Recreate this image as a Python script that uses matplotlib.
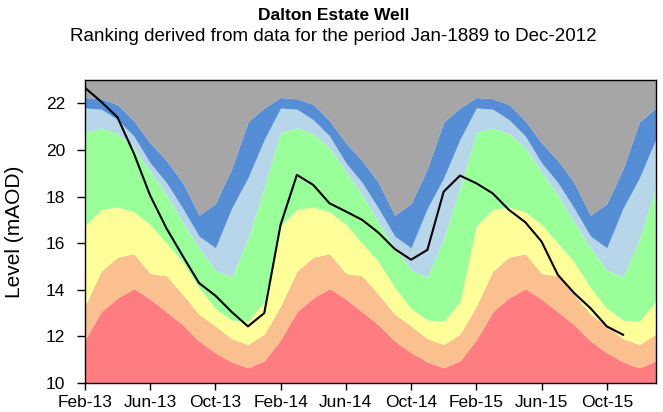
import matplotlib
matplotlib.use("Agg")
import matplotlib.pyplot as plt

plt.rcParams['font.family'] = ['Liberation Sans', 'DejaVu Sans']

# months shown on the axis, Feb-13 .. Jan-16
months = ['Feb', 'Mar', 'Apr', 'May', 'Jun', 'Jul', 'Aug', 'Sep', 'Oct', 'Nov', 'Dec', 'Jan'] * 3
years = ['13'] * 11 + ['14'] * 12 + ['15'] * 12 + ['16']
month_labels = [m + '-' + y for m, y in zip(months, years)]

# monthly ranking bands (upper edge of each band), by calendar month
cal = ['Jan', 'Feb', 'Mar', 'Apr', 'May', 'Jun', 'Jul', 'Aug', 'Sep', 'Oct', 'Nov', 'Dec']
red_top = [10.95, 11.85, 13.05, 13.65, 14.05, 13.6, 13.05, 12.5, 11.8, 11.3, 10.9, 10.65]
orange_top = [12.1, 13.3, 14.8, 15.4, 15.55, 14.7, 14.6, 13.8, 12.95, 12.45, 11.9, 11.65]
yellow_top = [13.5, 16.75, 17.45, 17.55, 17.35, 16.8, 16.0, 15.2, 14.1, 13.2, 12.7, 12.65]
green_top = [18.4, 20.75, 20.95, 20.7, 20.1, 19.07, 18.07, 16.9, 15.8, 14.85, 14.55, 16.2]
ltblue_top = [20.45, 21.8, 21.75, 21.3, 20.6, 19.45, 18.6, 17.5, 16.3, 15.8, 17.5, 18.8]
blue_top = [21.8, 22.25, 22.2, 21.95, 21.25, 20.3, 19.55, 18.6, 17.2, 17.7, 19.2, 21.2]

# observed level, Feb-13 .. Nov-15
level = [22.67, 22.07, 21.4, 19.86, 18.05, 16.64, 15.45, 14.29, 13.75, 13.05, 12.43, 13.0,
         16.79, 18.93, 18.5, 17.71, 17.36, 17.0, 16.45, 15.75, 15.29, 15.71, 18.21, 18.9,
         18.57, 18.14, 17.43, 16.9, 16.07, 14.64, 13.86, 13.21, 12.43, 12.07]

ymin, ymax = 10, 23

x = list(range(len(months)))
idx = [cal.index(m) for m in months]
bands = [[red_top[i] for i in idx], [orange_top[i] for i in idx], [yellow_top[i] for i in idx],
         [green_top[i] for i in idx], [ltblue_top[i] for i in idx], [blue_top[i] for i in idx],
         [ymax] * len(idx)]
colors = ['#FF7D80', '#FAC090', '#FFFF99', '#99FF99', '#B7D6EA', '#558ED5', '#A6A6A6']

fig = plt.figure(figsize=(6.63, 4.12), dpi=100)
ax = fig.add_axes([0.128, 0.0704, 0.861, 0.7354])

lower = [ymin] * len(x)
for b, c in zip(bands, colors):
    ax.fill_between(x, lower, b, color=c, linewidth=0)
    lower = b

ax.plot(x[:len(level)], level, color='black', linewidth=1.5)

ax.set_xlim(0, len(x) - 1)
ax.set_ylim(ymin, ymax)
ax.set_yticks(range(10, 23, 2))
ax.set_xticks(x[::4])
ax.set_xticklabels(month_labels[::4])
ax.tick_params(direction='out', width=1, labelsize=12.5, colors='black')
ax.tick_params(axis='x', length=5, pad=4)
ax.tick_params(axis='y', length=6, pad=8)
for s in ax.spines.values():
    s.set_color('black')
    s.set_linewidth(1)
ax.set_ylabel('Level (mAOD)', fontsize=15)
ax.yaxis.set_label_coords(-0.107, 0.5)

fig.text(0.503, 0.962, 'Dalton Estate Well', ha='center', va='center', fontsize=12.5, fontweight='bold')
fig.text(0.503, 0.912, 'Ranking derived from data for the period Jan-1889 to Dec-2012',
         ha='center', va='center', fontsize=13.5)

fig.savefig('out.png', dpi=100)
